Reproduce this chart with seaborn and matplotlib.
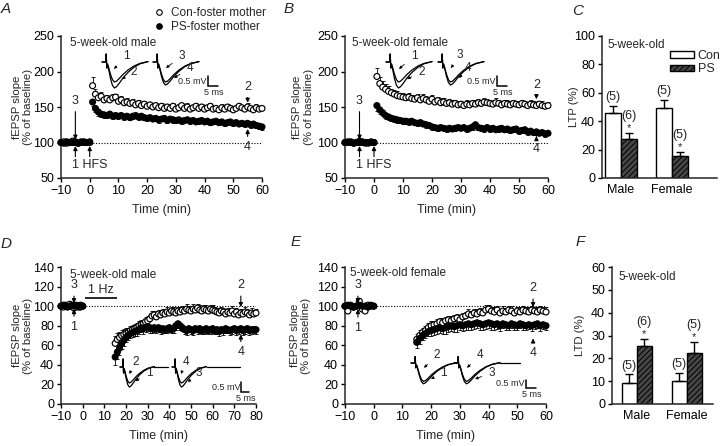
import numpy as np
import pandas as pd
import matplotlib
matplotlib.use("Agg")
import matplotlib.pyplot as plt
import seaborn as sns
from matplotlib.lines import Line2D
from matplotlib.patches import Patch

sns.set_style("ticks")
plt.rcParams['font.family'] = ['Liberation Sans', 'DejaVu Sans']
plt.rcParams['hatch.linewidth'] = 0.7
plt.rcParams['axes.linewidth'] = 1.1

W, H = 720, 446

# ---------------- data ----------------
base_t = list(range(-10, 1))        # baseline sampling times (min)
ltp_t = list(range(1, 61))          # post-HFS times (A, B)
ltd_t_d = list(range(15, 81))       # post-LFS times (D)
ltd_t_e = list(range(15, 61))       # post-LFS times (E)
base_sem = [2, 2, 2, 2, 2, 2, 2, 2, 2, 2, 2]

# Panel A: 5-week-old male, LTP
a_con_base = [100, 101, 99, 100, 102, 100, 99, 101, 100, 100, 101]
a_ps_base = [100, 99, 101, 100, 100, 101, 99, 100, 101, 100, 100]
a_con = [180, 168, 163, 165, 160, 162, 160, 163, 164, 158,
         160, 156, 157, 155, 156, 153, 155, 152, 154, 151,
         153, 150, 152, 149, 151, 148, 150, 148, 151, 147,
         149, 152, 148, 150, 147, 149, 151, 148, 150, 147,
         149, 151, 147, 148, 146, 149, 147, 150, 148, 146,
         148, 151, 149, 147, 150, 148, 146, 149, 147, 148]
a_con_sem = [12, 8, 7, 6, 6, 5, 6, 5, 5, 5,
             5, 4, 5, 4, 5, 4, 5, 4, 4, 5,
             4, 5, 4, 4, 5, 4, 4, 5, 4, 4,
             5, 4, 4, 5, 4, 4, 5, 4, 4, 5,
             4, 4, 5, 4, 4, 5, 4, 4, 5, 4,
             4, 5, 4, 4, 5, 4, 4, 5, 4, 4]
a_ps = [157, 148, 143, 140, 139, 138, 140, 137, 138, 137,
        138, 136, 137, 135, 137, 138, 136, 137, 135, 134,
        135, 133, 134, 132, 133, 134, 131, 133, 132, 131,
        132, 130, 131, 132, 130, 131, 129, 130, 131, 129,
        130, 128, 129, 130, 128, 129, 127, 128, 129, 127,
        128, 126, 127, 126, 127, 125, 126, 124, 123, 122]
a_ps_sem = [6, 5, 5, 4, 4, 4, 4, 4, 4, 4,
            4, 4, 3, 4, 4, 3, 4, 4, 3, 4,
            4, 3, 4, 4, 3, 4, 4, 3, 4, 4,
            3, 4, 4, 3, 4, 4, 3, 4, 4, 3,
            4, 4, 3, 4, 4, 3, 4, 4, 3, 4,
            4, 3, 4, 4, 3, 4, 4, 3, 4, 4]

# Panel B: 5-week-old female, LTP
b_con_base = [100, 100, 101, 99, 100, 102, 100, 99, 100, 101, 100]
b_ps_base = [100, 101, 100, 99, 100, 100, 101, 100, 99, 100, 100]
b_con = [193, 183, 178, 175, 172, 170, 168, 166, 165, 164,
         163, 164, 162, 161, 163, 160, 162, 160, 158, 161,
         157, 159, 156, 157, 155, 156, 154, 155, 153, 154,
         152, 154, 153, 155, 154, 156, 155, 157, 156, 155,
         154, 156, 155, 153, 155, 154, 153, 155, 154, 153,
         155, 154, 152, 154, 153, 152, 154, 152, 151, 152]
b_con_sem = [12, 9, 8, 7, 7, 6, 6, 6, 5, 6,
             5, 6, 5, 5, 6, 5, 6, 5, 5, 6,
             5, 5, 6, 5, 5, 5, 6, 5, 5, 5,
             5, 6, 5, 5, 6, 5, 5, 6, 5, 5,
             5, 6, 5, 5, 5, 6, 5, 5, 5, 6,
             5, 5, 5, 6, 5, 5, 5, 6, 5, 5]
b_ps = [152, 146, 142, 138, 136, 134, 133, 132, 131, 130,
        130, 129, 130, 128, 127, 128, 126, 125, 124, 122,
        121, 120, 121, 120, 119, 120, 119, 120, 121, 120,
        121, 119, 120, 122, 125, 121, 120, 119, 121, 119,
        120, 118, 119, 120, 118, 119, 117, 118, 119, 116,
        117, 118, 115, 116, 114, 115, 113, 114, 112, 113]
b_ps_sem = [7, 6, 5, 5, 4, 4, 4, 4, 4, 4,
            4, 4, 4, 3, 4, 4, 3, 4, 4, 4,
            3, 4, 4, 3, 4, 4, 3, 4, 4, 3,
            4, 4, 3, 4, 4, 3, 4, 4, 3, 4,
            4, 3, 4, 4, 3, 4, 4, 3, 4, 4,
            3, 4, 4, 3, 4, 4, 3, 4, 4, 3]

# Panel D: 5-week-old male, LTD
d_con_base = [100, 99, 101, 100, 102, 100, 98, 101, 100, 99, 100]
d_ps_base = [100, 101, 100, 99, 100, 101, 100, 100, 99, 101, 100]
d_con = [62, 66, 68, 70, 71, 72, 73, 75, 76, 77,
         78, 80, 81, 82, 84, 85, 87, 90, 91, 89,
         92, 91, 93, 92, 94, 93, 95, 94, 93, 95,
         94, 96, 95, 97, 96, 95, 97, 96, 98, 96,
         95, 97, 96, 95, 97, 96, 95, 94, 93, 95,
         94, 92, 94, 93, 95, 92, 94, 91, 93, 92,
         94, 93, 91, 93, 92, 93]
d_con_sem = [7, 7, 6, 6, 6, 6, 5, 5, 5, 5,
             5, 5, 5, 4, 5, 5, 4, 5, 4, 5,
             4, 5, 4, 4, 5, 4, 4, 5, 4, 4,
             5, 4, 4, 5, 4, 4, 5, 4, 4, 5,
             4, 4, 5, 4, 4, 5, 4, 4, 5, 4,
             4, 5, 4, 4, 5, 4, 4, 5, 4, 4,
             5, 4, 4, 5, 4, 4]
d_ps = [48, 53, 57, 62, 65, 68, 70, 72, 73, 74,
        75, 76, 78, 77, 78, 79, 78, 77, 78, 77,
        78, 76, 77, 76, 77, 78, 76, 77, 80, 82,
        80, 78, 76, 75, 77, 76, 75, 77, 76, 77,
        75, 76, 77, 75, 76, 77, 75, 76, 74, 76,
        75, 77, 76, 75, 76, 77, 75, 76, 77, 75,
        76, 77, 75, 76, 76, 76]
d_ps_sem = [8, 7, 7, 6, 6, 5, 5, 5, 5, 4,
            5, 4, 4, 5, 4, 4, 5, 4, 4, 4,
            4, 4, 4, 3, 4, 4, 3, 4, 4, 4,
            4, 3, 4, 4, 3, 4, 4, 3, 4, 4,
            3, 4, 4, 3, 4, 4, 3, 4, 4, 3,
            4, 4, 3, 4, 4, 3, 4, 4, 3, 4,
            4, 3, 4, 4, 3, 4]

# Panel E: 5-week-old female, LTD
e_con_base = [100, 95, 101, 99, 100, 105, 97, 95, 101, 100, 100]
e_ps_base = [100, 101, 100, 99, 100, 101, 100, 100, 99, 101, 100]
e_con = [66, 70, 73, 75, 78, 80, 81, 82, 84, 83,
         85, 86, 85, 87, 88, 86, 89, 90, 92, 91,
         93, 92, 94, 93, 96, 97, 95, 94, 96, 93,
         95, 94, 96, 95, 93, 95, 94, 96, 95, 94,
         96, 95, 94, 96, 95, 94]
e_con_sem = [6, 6, 5, 5, 5, 5, 4, 5, 4, 5,
             4, 4, 5, 4, 4, 5, 4, 4, 5, 4,
             4, 5, 4, 4, 5, 4, 4, 5, 4, 4,
             5, 4, 4, 5, 4, 4, 5, 4, 4, 5,
             4, 4, 5, 4, 4, 5]
e_ps = [63, 67, 70, 72, 74, 75, 76, 77, 78, 77,
        78, 79, 80, 79, 80, 81, 80, 81, 82, 81,
        82, 83, 82, 81, 82, 83, 82, 81, 82, 80,
        82, 81, 80, 82, 81, 80, 82, 81, 80, 81,
        80, 81, 82, 80, 81, 80]
e_ps_sem = [6, 6, 5, 5, 5, 5, 5, 5, 5, 5,
            6, 5, 5, 5, 6, 5, 5, 5, 6, 5,
            5, 5, 6, 5, 5, 5, 6, 5, 5, 5,
            4, 5, 4, 4, 5, 4, 4, 5, 4, 4,
            5, 4, 4, 5, 4, 4]

# Bar panels
sexes = ['Male', 'Female']
c_con = [46, 49.5]
c_con_sem = [5, 5.5]
c_ps = [27.5, 15.5]
c_ps_sem = [4, 3]
c_n_con = [5, 5]
c_n_ps = [6, 5]
f_con = [9, 10]
f_con_sem = [4, 3.5]
f_ps = [25.5, 22.5]
f_ps_sem = [3, 4.5]
f_n_con = [5, 5]
f_n_ps = [6, 5]

# example fEPSP traces (ms after stimulus, mV)
tr_t = [-2, 0, 0.1, 0.4, 0.8, 1.4, 2.2, 3.2, 4.2, 5.2, 6.5, 8.5, 11, 14, 17, 21]
tr_small = [0, 0, 0.4, -0.3, -0.1, -0.3, -0.6, -0.88, -1.0, -0.96, -0.84, -0.62, -0.4, -0.2, -0.07, 0.02]
tr_mid = [0, 0, 0.4, -0.3, -0.12, -0.35, -0.7, -1.02, -1.15, -1.1, -0.96, -0.71, -0.46, -0.23, -0.08, 0.02]
tr_large = [0, 0, 0.4, -0.3, -0.14, -0.4, -0.8, -1.16, -1.3, -1.24, -1.08, -0.8, -0.52, -0.26, -0.09, 0.02]
tr_ltd = [0, 0, 0.4, -0.3, -0.08, -0.24, -0.48, -0.7, -0.8, -0.77, -0.67, -0.5, -0.32, -0.16, -0.05, 0.02]

# ---------------- figure ----------------
fig = plt.figure(figsize=(W / 100, H / 100), dpi=100)


def px_axes(x0, y0, x1, y1):
    return fig.add_axes([x0 / W, 1 - y1 / H, (x1 - x0) / W, (y1 - y0) / H])


def ftext(x, y, s, **kw):
    kw.setdefault('fontsize', 8.5)
    kw.setdefault('va', 'center')
    fig.text(x / W, 1 - y / H, s, **kw)


def timecourse(ax, con_b, ps_b, t_post, con_p, ps_p, con_s, ps_s):
    t = list(base_t) + list(t_post)
    df = pd.concat([
        pd.DataFrame({'time': t, 'value': list(con_b) + list(con_p),
                      'sem': list(base_sem) + list(con_s), 'group': 'Con'}),
        pd.DataFrame({'time': t, 'value': list(ps_b) + list(ps_p),
                      'sem': list(base_sem) + list(ps_s), 'group': 'PS'}),
    ], ignore_index=True)
    for g, up in [('Con', True), ('PS', False)]:
        d = df[df['group'] == g]
        z = np.zeros(len(d))
        yerr = [z, d['sem'].values] if up else [d['sem'].values, z]
        ax.errorbar(d['time'], d['value'], yerr=yerr, fmt='none', ecolor='black',
                    elinewidth=0.6, capsize=1.3, capthick=0.6, zorder=2, clip_on=False)
    sns.scatterplot(data=df, x='time', y='value', hue='group',
                    palette={'Con': 'white', 'PS': 'black'}, edgecolor='black',
                    linewidth=0.85, s=18, legend=False, ax=ax, zorder=3, clip_on=False)


def style(ax, xlim, ylim, xticks, yticks, ylabel, ylab_x):
    ax.set_xlim(xlim)
    ax.set_ylim(ylim)
    ax.set_xticks(xticks)
    ax.set_yticks(yticks)
    sns.despine(ax=ax)
    ax.tick_params(direction='out', length=3, width=1, labelsize=9, pad=2, colors='black')
    ax.set_ylabel(ylabel, fontsize=8.2, linespacing=1.15)
    ax.yaxis.set_label_coords(ylab_x, 0.5)


def arrow(ax, xy, xytext):
    ax.annotate('', xy=xy, xytext=xytext,
                arrowprops=dict(arrowstyle='-|>', lw=0.8, color='black',
                                mutation_scale=6, shrinkA=0, shrinkB=0))


def num(ax, s, tip, txt, va):
    ax.annotate(s, xy=tip, xytext=txt, ha='center', va=va, fontsize=9,
                arrowprops=dict(arrowstyle='-|>', lw=0.8, color='black',
                                mutation_scale=6, shrinkA=1, shrinkB=0))


def trace_inset(box, xlim, ylim, pairs, tails, labels, bar):
    ax = px_axes(*box)
    ax.set_xlim(xlim)
    ax.set_ylim(ylim)
    ax.axis('off')
    for (off, tra, trb), tail in zip(pairs, tails):
        x = [off + v for v in tr_t]
        ax.plot(x, tra, color='black', lw=0.9, solid_joinstyle='round')
        ax.plot(x, trb, color='black', lw=0.9, solid_joinstyle='round')
        if tail:
            ax.plot([x[-1], x[-1] + tail], [tra[-1], tra[-1]], color='black', lw=0.9)
    for s, tip, pos in labels:
        ax.annotate(s, xy=tip, xytext=pos, ha='center', va='center', fontsize=8.5,
                    arrowprops=dict(arrowstyle='-|>', lw=0.6, color='black',
                                    mutation_scale=4, shrinkA=3, shrinkB=0))
    bx, by0, by1, bw, tfs = bar
    ax.plot([bx, bx, bx + bw], [by0, by1, by1], color='black', lw=1.1,
            solid_joinstyle='miter')
    ax.text(bx - 0.6, by1, '0.5 mV', ha='right', va='bottom', fontsize=tfs)
    ax.text(bx + bw / 2 + 0.5, by1 - 0.1, '5 ms', ha='center', va='top', fontsize=tfs)
    return ax


def barpanel(ax, con_v, ps_v, con_s, ps_s, n_con, n_ps, width):
    df = pd.DataFrame({'sex': sexes * 2, 'group': ['Con'] * 2 + ['PS'] * 2,
                       'value': list(con_v) + list(ps_v)})
    sns.barplot(data=df, x='sex', y='value', hue='group', order=sexes,
                hue_order=['Con', 'PS'], palette={'Con': 'white', 'PS': '#474747'},
                saturation=1, width=width, errorbar=None, edgecolor='black',
                linewidth=1, legend=False, ax=ax)
    for k, (cont, sems, ns) in enumerate(zip(ax.containers, [con_s, ps_s], [n_con, n_ps])):
        for bar, s, n in zip(cont, sems, ns):
            x = bar.get_x() + bar.get_width() / 2
            h = bar.get_height()
            ax.errorbar(x, h, yerr=[[0], [s]], fmt='none', ecolor='black',
                        elinewidth=1, capsize=3, capthick=1, zorder=2)
            off = 2
            if k == 1:
                bar.set_hatch('//////')
                ax.annotate('*', (x, h + s), xytext=(0, 0), textcoords='offset points',
                            ha='center', va='bottom', fontsize=8)
                off = 8
            ax.annotate('(%d)' % n, (x, h + s), xytext=(0, off), textcoords='offset points',
                        ha='center', va='bottom', fontsize=9, zorder=0.5)
    ax.set_xlabel('')
    ax.tick_params(axis='x', length=0, pad=4)


# ---- Panel A ----
axA = px_axes(61, 36, 262, 178)
timecourse(axA, a_con_base, a_ps_base, ltp_t, a_con, a_ps, a_con_sem, a_ps_sem)
style(axA, (-10, 60), (50, 250), range(-10, 61, 10), range(50, 251, 50),
      'fEPSP slope\n(% of baseline)', -0.14)
axA.set_xlabel('Time (min)', fontsize=9, labelpad=5)
axA.hlines(100, 0, 60, colors='black', linestyles=(0, (1, 1.5)), lw=0.8, zorder=1)
num(axA, '3', (-5, 104), (-5, 150), 'bottom')
arrow(axA, (-5, 95), (-5, 80))
arrow(axA, (0, 95), (0, 80))
axA.text(-6.3, 69, '1 HFS', fontsize=9, va='center', ha='left')
num(axA, '2', (55, 156), (55, 170), 'bottom')
num(axA, '4', (55, 119), (55, 102), 'top')
ftext(70, 43, '5-week-old male', fontsize=8.5, ha='left')

# ---- Panel B ----
axB = px_axes(345, 36, 548, 178)
timecourse(axB, b_con_base, b_ps_base, ltp_t, b_con, b_ps, b_con_sem, b_ps_sem)
style(axB, (-10, 60), (50, 250), range(-10, 61, 10), range(50, 251, 50),
      'fEPSP slope\n(% of baseline)', -0.155)
axB.set_xlabel('Time (min)', fontsize=9, labelpad=5)
axB.hlines(100, 0, 60, colors='black', linestyles=(0, (1, 1.5)), lw=0.8, zorder=1)
num(axB, '3', (-5, 104), (-5, 150), 'bottom')
arrow(axB, (-5, 95), (-5, 80))
arrow(axB, (0, 95), (0, 80))
axB.text(-6.3, 69, '1 HFS', fontsize=9, va='center', ha='left')
num(axB, '2', (56, 161), (56, 172), 'bottom')
num(axB, '4', (56, 109), (56, 100), 'top')
ftext(352, 43, '5-week-old female', fontsize=8.5, ha='left')

# ---- Panel C ----
axC = px_axes(602, 36, 717, 178)
barpanel(axC, c_con, c_ps, c_con_sem, c_ps_sem, c_n_con, c_n_ps, 0.62)
style(axC, (-0.37, 1.88), (0, 100), [0, 1], range(0, 101, 20), 'LTP (%)', -0.2)
axC.tick_params(axis='x', length=0, pad=4)
axC.text(0.05, 0.94, '5-week-old', transform=axC.transAxes, fontsize=8.5, va='center')
axC.legend(handles=[Patch(facecolor='white', edgecolor='black', lw=1, label='Con'),
                    Patch(facecolor='#474747', edgecolor='black', hatch='//////', lw=1, label='PS')],
           loc='upper right', bbox_to_anchor=(1.03, 0.9), frameon=False, fontsize=9,
           handlelength=1.9, handleheight=0.45, handletextpad=0.3, labelspacing=0.1,
           borderpad=0, borderaxespad=0)

# ---- Panel D ----
axD = px_axes(61, 267, 256, 404)
timecourse(axD, d_con_base, d_ps_base, ltd_t_d, d_con, d_ps, d_con_sem, d_ps_sem)
style(axD, (-10, 80), (0, 140), range(-10, 81, 10), range(0, 141, 20),
      'fEPSP slope\n(% of baseline)', -0.145)
axD.set_xlabel('Time (min)', fontsize=9, labelpad=5)
axD.hlines(100, 0, 80, colors='black', linestyles=(0, (1, 1.5)), lw=0.8, zorder=1)
num(axD, '3', (-4, 103), (-4, 115), 'bottom')
num(axD, '1', (-4, 97), (-4, 85), 'top')
axD.hlines(108, 1, 16, colors='black', lw=1.2)
axD.text(8.5, 110, '1 Hz', fontsize=9, ha='center', va='bottom')
num(axD, '2', (73, 99), (73, 115), 'bottom')
num(axD, '4', (73, 71), (73, 59), 'top')
ftext(70, 275, '5-week-old male', fontsize=8.5, ha='left')

# ---- Panel E ----
axE = px_axes(345, 267, 546, 404)
timecourse(axE, e_con_base, e_ps_base, ltd_t_e, e_con, e_ps, e_con_sem, e_ps_sem)
style(axE, (-10, 60), (0, 140), range(-10, 61, 10), range(0, 141, 20),
      'fEPSP slope\n(% of baseline)', -0.17)
axE.set_xlabel('Time (min)', fontsize=9, labelpad=5)
axE.hlines(100, 0, 60, colors='black', linestyles=(0, (1, 1.5)), lw=0.8, zorder=1)
num(axE, '3', (-5.5, 103), (-5.5, 115), 'bottom')
num(axE, '1', (-5.5, 97), (-5.5, 84), 'top')
num(axE, '2', (55.5, 99), (55.5, 112), 'bottom')
num(axE, '4', (55.5, 67), (55.5, 58), 'top')
ftext(350, 273, '5-week-old female', fontsize=8.5, ha='left')

# ---- Panel F ----
axF = px_axes(612, 267, 713, 404)
barpanel(axF, f_con, f_ps, f_con_sem, f_ps_sem, f_n_con, f_n_ps, 0.6)
style(axF, (-0.49, 1.53), (0, 60), [0, 1], range(0, 61, 10), 'LTD (%)', -0.27)
axF.tick_params(axis='x', length=0, pad=4)
axF.text(0.06, 0.93, '5-week-old', transform=axF.transAxes, fontsize=8.5, va='center')

# ---- example traces ----
trace_inset((96, 50, 222, 96), (0, 63), (-1.7, 0.6),
            [(5, tr_small, tr_large), (30.5, tr_small, tr_mid)], [0, 0],
            [('1', (9, -0.35), (15, 0.3)), ('2', (13, -0.85), (19, -0.5)),
             ('3', (35, -0.3), (43, 0.3)), ('4', (39, -0.8), (47, -0.3))],
            (56, -0.7, -1.2, 5, 6.5))
trace_inset((380, 50, 512, 96), (0, 66), (-1.7, 0.6),
            [(5, tr_small, tr_large), (31, tr_small, tr_mid)], [0, 0],
            [('1', (9.5, -0.35), (17, 0.3)), ('2', (13.5, -0.85), (21, -0.5)),
             ('3', (35.5, -0.3), (40, 0.35)), ('4', (39.5, -0.8), (44, -0.3))],
            (58.5, -0.7, -1.2, 5, 6.5))
trace_inset((115, 355, 252, 400), (0, 91.3), (-1.65, 0.6),
            [(5.3, tr_small, tr_ltd), (40, tr_small, tr_ltd)], [9, 22],
            [('2', (9.5, -0.35), (14, 0.25)), ('1', (13.5, -0.7), (23, -0.3)),
             ('4', (44, -0.35), (47, 0.25)), ('3', (48.5, -0.75), (56, -0.3))],
            (84, -0.75, -1.25, 5, 6.5))
trace_inset((405, 352, 545, 398), (0, 70), (-2.19, 0.69),
            [(5, tr_mid, tr_large), (26.5, tr_mid, tr_large)], [0, 10],
            [('2', (9.5, -0.3), (16, 0.5)), ('1', (13, -1.0), (19, -0.6)),
             ('4', (31, -0.3), (37.5, 0.5)), ('3', (35, -1.0), (43.5, -0.6))],
            (60.5, -1.06, -1.56, 5, 6.5))

# ---- legend for time-course panels ----
fig.legend(handles=[Line2D([], [], marker='o', ls='', mfc='white', mec='black', ms=4, mew=0.8,
                           label='Con-foster mother'),
                    Line2D([], [], marker='o', ls='', mfc='black', mec='black', ms=4, mew=0.8,
                           label='PS-foster mother')],
           loc='upper left', bbox_to_anchor=(153 / W, 1 - 7 / H), frameon=False, fontsize=8.5,
           handlelength=1, handletextpad=0.5, labelspacing=0.15, borderpad=0, borderaxespad=0)

# ---- panel letters ----
for x, y, s in [(6, 9, 'A'), (289, 9, 'B'), (578, 11, 'C'),
                (6, 244, 'D'), (296, 242, 'E'), (580, 242, 'F')]:
    ftext(x, y, s, fontsize=11, style='italic', ha='center')

fig.savefig('out.png', dpi=100)
